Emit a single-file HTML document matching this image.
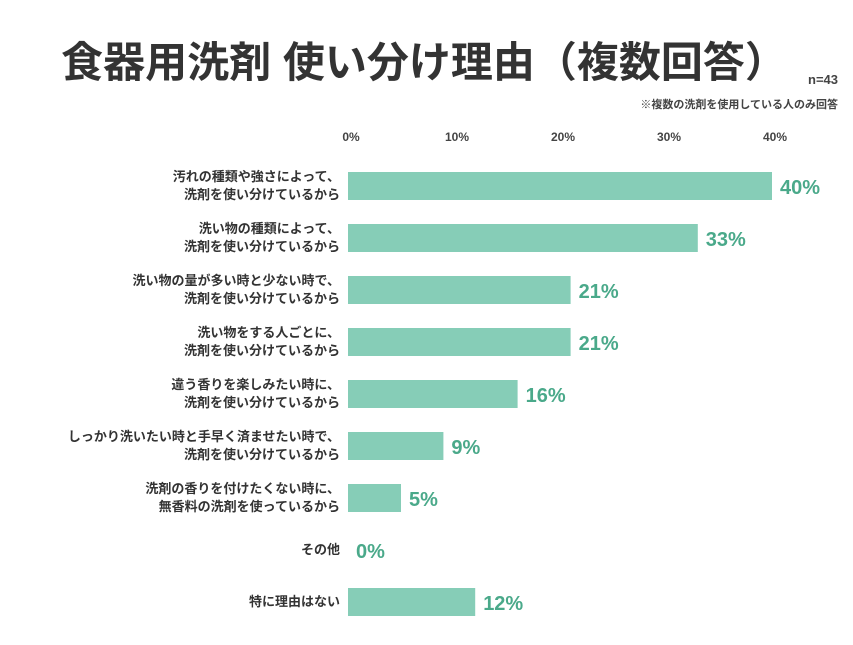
<!DOCTYPE html>
<html><head><meta charset="utf-8">
<style>
body{margin:0;background:#fff;width:853px;height:640px;overflow:hidden;font-family:"Liberation Sans","Noto Sans CJK JP",sans-serif;}
svg text{font-family:"Liberation Sans","Noto Sans CJK JP",sans-serif;}
</style></head>
<body>
<svg id="chart" width="853" height="640">
<text x="424" y="77" text-anchor="middle" font-size="42" font-weight="bold" fill="#333">食器用洗剤 使い分け理由（複数回答）</text>
<text x="838" y="84" text-anchor="end" font-size="13" font-weight="bold" fill="#444">n=43</text>
<text x="838" y="108" text-anchor="end" font-size="11" font-weight="bold" fill="#444">※複数の洗剤を使用している人のみ回答</text>
<g id="ticks"></g><g id="bars"></g>
</svg>
<script>
const categories=[["汚れの種類や強さによって、","洗剤を使い分けているから"],["洗い物の種類によって、","洗剤を使い分けているから"],["洗い物の量が多い時と少ない時で、","洗剤を使い分けているから"],["洗い物をする人ごとに、","洗剤を使い分けているから"],["違う香りを楽しみたい時に、","洗剤を使い分けているから"],["しっかり洗いたい時と手早く済ませたい時で、","洗剤を使い分けているから"],["洗剤の香りを付けたくない時に、","無香料の洗剤を使っているから"],["その他"],["特に理由はない"]];
const values=[40,33,21,21,16,9,5,0,12];
const tickValues=[0,10,20,30,40];
const ns="http://www.w3.org/2000/svg";
const x=v=>348+v*10.6;
const y=i=>186+i*52;
function mk(tag,attrs,parent,txt){const e=document.createElementNS(ns,tag);for(const k in attrs)e.setAttribute(k,attrs[k]);if(txt!==undefined)e.textContent=txt;parent.appendChild(e);return e;}
const tg=document.getElementById('ticks'),bg=document.getElementById('bars');
tickValues.forEach(t=>{const e=mk('text',{x:x(t)+3,y:141,'text-anchor':'middle','font-size':12,'font-weight':'bold',fill:'#444'},tg,t+'%');

});
values.forEach((v,i)=>{const cy=y(i);
const r=mk('rect',{x:x(0),y:cy-14,width:x(v)-x(0),height:28,fill:'#86cdb7'},bg);


const vl=mk('text',{x:x(v)+8,y:cy+8,'font-size':20,'font-weight':'bold',fill:'#4aa98a'},bg,v+'%');


const lines=categories[i];
lines.forEach((l,j)=>{const ly=cy+4+(j-(lines.length-1)/2)*18;
const t=mk('text',{x:340,y:ly,'text-anchor':'end','font-size':13,'font-weight':'bold',fill:'#333'},bg,l);

});
});
</script>
</body></html>
